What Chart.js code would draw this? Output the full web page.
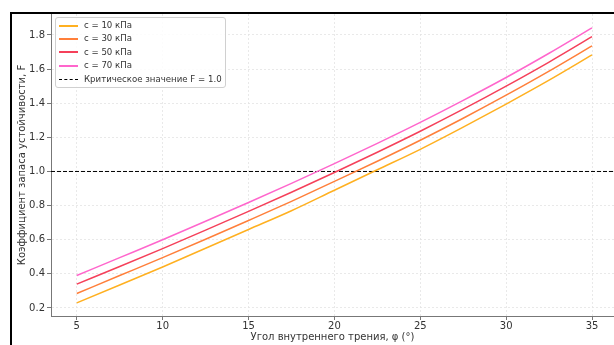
<!DOCTYPE html>
<html>
<head>
<meta charset="utf-8">
<script src="https://cdn.jsdelivr.net/npm/chart.js@4"></script>
<style>
	body { margin: 0; background: #fff; overflow: hidden; }
	#wrap { position: relative; width: 614px; height: 345px; }
	#frame { position: absolute; left: 10px; top: 12px; width: 620px; height: 350px; border-top: 2px solid #000; border-left: 2px solid #000; }
	#chart { position: absolute; left: 0; top: 0; }
	#legend {
		position: absolute; left: 55px; top: 17px;
		border: 1px solid #d0d0d0; border-radius: 3px;
		background: rgba(255, 255, 255, 0.85);
		padding: 1px 3px 1px 3px;
		font: 8.6px "DejaVu Sans", sans-serif; color: #333;
	}
	.leg-row { height: 13.4px; line-height: 13.4px; white-space: nowrap; }
	.leg-line { display: inline-block; width: 19px; height: 2px; vertical-align: middle; margin-right: 6px; }
	.leg-dash { height: 0; border-top: 1px dashed #000; }
</style>
</head>
<body>
<div id="wrap">
	<div id="frame"></div>
	<canvas id="chart" width="614" height="345"></canvas>
	<div id="legend"></div>
</div>
<script>
// Угол внутреннего трения, градусы
const phi = [5, 7.5, 10, 12.5, 15, 17.5, 20, 22.5, 25, 27.5, 30, 32.5, 35];

// Коэффициент запаса F для разных значений сцепления c
const fC10 = [0.23, 0.335, 0.44, 0.55, 0.66, 0.77, 0.89, 1.01, 1.13, 1.26, 1.395, 1.535, 1.683];
const fC30 = [0.285, 0.39, 0.495, 0.603, 0.713, 0.825, 0.942, 1.06, 1.183, 1.312, 1.447, 1.588, 1.736];
const fC50 = [0.34, 0.443, 0.548, 0.656, 0.766, 0.878, 0.994, 1.113, 1.236, 1.365, 1.5, 1.641, 1.79];
const fC70 = [0.39, 0.495, 0.6, 0.708, 0.818, 0.93, 1.046, 1.165, 1.288, 1.417, 1.551, 1.693, 1.842];

const seriesLabels = ["c = 10 кПа", "c = 30 кПа", "c = 50 кПа", "c = 70 кПа"];
const seriesColors = ["#ffb020", "#ff7f3a", "#f5405a", "#ff66cc"];
const F_CRIT = 1.0;

const xTicks = [5, 10, 15, 20, 25, 30, 35];
const yTicks = [0.2, 0.4, 0.6, 0.8, 1.0, 1.2, 1.4, 1.6, 1.8];

const X_MIN = 3.5, X_MAX = 36.28;
const Y_MIN = 0.153, Y_MAX = 1.923;

const FONT = "DejaVu Sans";

const toPoints = (ys) => ys.map((y, i) => ({ x: phi[i], y }));

const datasets = [fC10, fC30, fC50, fC70].map((ys, i) => ({
	label: seriesLabels[i],
	data: toPoints(ys),
	borderColor: seriesColors[i],
	borderWidth: 1.5,
	pointRadius: 0,
	cubicInterpolationMode: "monotone",
	fill: false,
}));

datasets.push({
	label: "Критическое значение F = 1.0",
	data: [{ x: X_MIN, y: F_CRIT }, { x: X_MAX, y: F_CRIT }],
	borderColor: "#000",
	borderWidth: 1,
	borderDash: [4, 2],
	pointRadius: 0,
	fill: false,
});

// legend inside the plot, like the original
document.getElementById("legend").innerHTML = datasets
	.map(
		(d) => `
	<div class="leg-row"><span class="leg-line${d.borderDash ? " leg-dash" : ""}" style="${d.borderDash ? "" : "background:" + d.borderColor + ";"}"></span>${d.label}</div>`,
	)
	.join("");

const gridStyle = { color: "#e4e4e4", lineWidth: 0.8, tickLength: 4, tickColor: "#777", tickWidth: 1 };
const borderStyle = { color: "#777", width: 1, dash: [2, 2] };
const tickFont = { family: FONT, size: 10 };

new Chart(document.getElementById("chart"), {
	type: "line",
	data: { datasets },
	options: {
		responsive: false,
		animation: false,
		layout: { padding: { left: 0, right: 0, top: 14, bottom: 0 } },
		plugins: { legend: { display: false }, tooltip: { enabled: false } },
		scales: {
			x: {
				type: "linear",
				min: X_MIN,
				max: X_MAX,
				afterBuildTicks: (s) => { s.ticks = xTicks.map((v) => ({ value: v })); },
				afterFit: (s) => { s.height = 29; },
				grid: gridStyle,
				border: borderStyle,
				ticks: { color: "#333", font: tickFont, padding: 0, maxRotation: 0, callback: (v) => String(v) },
				title: { display: true, text: "Угол внутреннего трения, φ (°)", color: "#333", font: tickFont, padding: { top: 0, bottom: 2 } },
			},
			y: {
				type: "linear",
				min: Y_MIN,
				max: Y_MAX,
				afterBuildTicks: (s) => { s.ticks = yTicks.map((v) => ({ value: v })); },
				afterFit: (s) => { s.width = 51; },
				grid: gridStyle,
				border: borderStyle,
				ticks: { color: "#333", font: tickFont, padding: 2, callback: (v) => v.toFixed(1) },
				title: { display: true, text: "Коэффициент запаса устойчивости, F", color: "#333", font: tickFont, padding: { top: 16, bottom: 0 } },
			},
		},
	},
});
</script>
</body>
</html>
